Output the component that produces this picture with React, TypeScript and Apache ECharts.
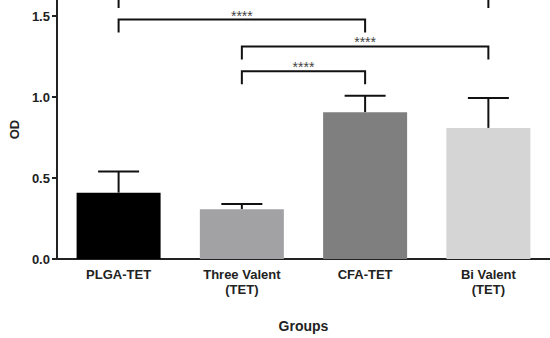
import React, { useEffect, useRef } from "react";
import * as echarts from "echarts";

const categories = ["PLGA-TET", "Three Valent\n(TET)", "CFA-TET", "Bi Valent\n(TET)"];
const means = [0.41, 0.307, 0.907, 0.81];
const errUpper = [0.54, 0.34, 1.008, 0.995];
const barColors = ["#000000", "#a2a2a4", "#7f7f7f", "#d5d5d5"];
const yTicks = [0, 0.5, 1.0, 1.5];
// [from category, to category, bar height, leg bottom, label]
const brackets: [number, number, number, number, string][] = [
  [0, 3, 1.63, 1.55, ""],
  [0, 2, 1.479, 1.4, "****"],
  [1, 3, 1.313, 1.233, "****"],
  [1, 2, 1.16, 1.08, "****"],
];

export default function App() {
  const ref = useRef<HTMLDivElement>(null);
  useEffect(() => {
    if (!ref.current) return;
    const chart = echarts.init(ref.current, null, { renderer: "svg" });
    const font = "'Liberation Sans', Arial, sans-serif";
    chart.setOption({
      animation: false,
      grid: { left: 56, top: 0, right: -2, bottom: 77, containLabel: false },
      xAxis: {
        type: "category",
        data: categories,
        name: "Groups",
        nameLocation: "middle",
        nameGap: 60,
        nameTextStyle: { fontFamily: font, fontWeight: "bold", fontSize: 14, color: "#222" },
        axisLine: { lineStyle: { color: "#222", width: 2 } },
        axisTick: { alignWithLabel: true, length: 5, lineStyle: { color: "#222", width: 2 } },
        axisLabel: {
          fontFamily: font,
          fontWeight: "bold",
          fontSize: 13,
          color: "#222",
          margin: 8,
          lineHeight: 15,
        },
      },
      yAxis: {
        type: "value",
        min: 0,
        max: 1.6,
        interval: 0.5,
        name: "OD",
        nameLocation: "middle",
        nameRotate: 90,
        nameGap: 30,
        nameTextStyle: { fontFamily: font, fontWeight: "bold", fontSize: 13, color: "#222" },
        splitLine: { show: false },
        axisLine: { show: true, lineStyle: { color: "#222", width: 2 } },
        axisTick: { show: true, length: 5, customValues: yTicks, lineStyle: { color: "#222", width: 2 } },
        axisLabel: {
          customValues: yTicks,
          fontFamily: font,
          fontWeight: "bold",
          fontSize: 13,
          color: "#222",
          margin: 7,
          formatter: (v: number) => (yTicks.some((t) => Math.abs(t - v) < 1e-6) ? v.toFixed(1) : ""),
        },
      },
      series: [
        {
          type: "custom",
          z: 1,
          data: means.map((m, i) => [i, m, errUpper[i]]),
          renderItem: (params: any, api: any) => {
            const i = api.value(0);
            const top = api.coord([i, api.value(1)]);
            const cap = api.coord([i, api.value(2)]);
            return {
              type: "group",
              children: [
                { type: "line", shape: { x1: top[0], y1: top[1], x2: cap[0], y2: cap[1] }, style: { stroke: "#111", lineWidth: 2 } },
                { type: "line", shape: { x1: cap[0] - 20.5, y1: cap[1], x2: cap[0] + 20.5, y2: cap[1] }, style: { stroke: "#111", lineWidth: 2 } },
              ],
            };
          },
        },
        {
          type: "bar",
          z: 2,
          barWidth: 84,
          data: means.map((m, i) => ({ value: m, itemStyle: { color: barColors[i] } })),
        },
        {
          type: "custom",
          z: 3,
          data: brackets.map((b) => [b[0], b[1], b[2], b[3]]),
          renderItem: (params: any, api: any) => {
            const a = api.value(0);
            const b = api.value(1);
            const h = api.value(2);
            const lb = api.value(3);
            const p1 = api.coord([a, h]);
            const p2 = api.coord([b, h]);
            const q1 = api.coord([a, lb]);
            const q2 = api.coord([b, lb]);
            const label = brackets[params.dataIndex][4];
            const children: any[] = [
              {
                type: "polyline",
                shape: { points: [[q1[0], q1[1]], [p1[0], p1[1]], [p2[0], p2[1]], [q2[0], q2[1]]] },
                style: { stroke: "#111", lineWidth: 2, fill: null },
              },
            ];
            if (label) {
              children.push({
                type: "text",
                x: (p1[0] + p2[0]) / 2,
                y: p1[1] - 4,
                style: {
                  text: label,
                  fontSize: 14,
                  fontFamily: font,
                  fill: "#444",
                  align: "center",
                  verticalAlign: "middle",
                },
              });
            }
            return { type: "group", children };
          },
        },
      ],
    });
    return () => chart.dispose();
  }, []);
  return <div ref={ref} style={{ width: 550, height: 338, position: "absolute", left: 0, top: 0 }} />;
}
